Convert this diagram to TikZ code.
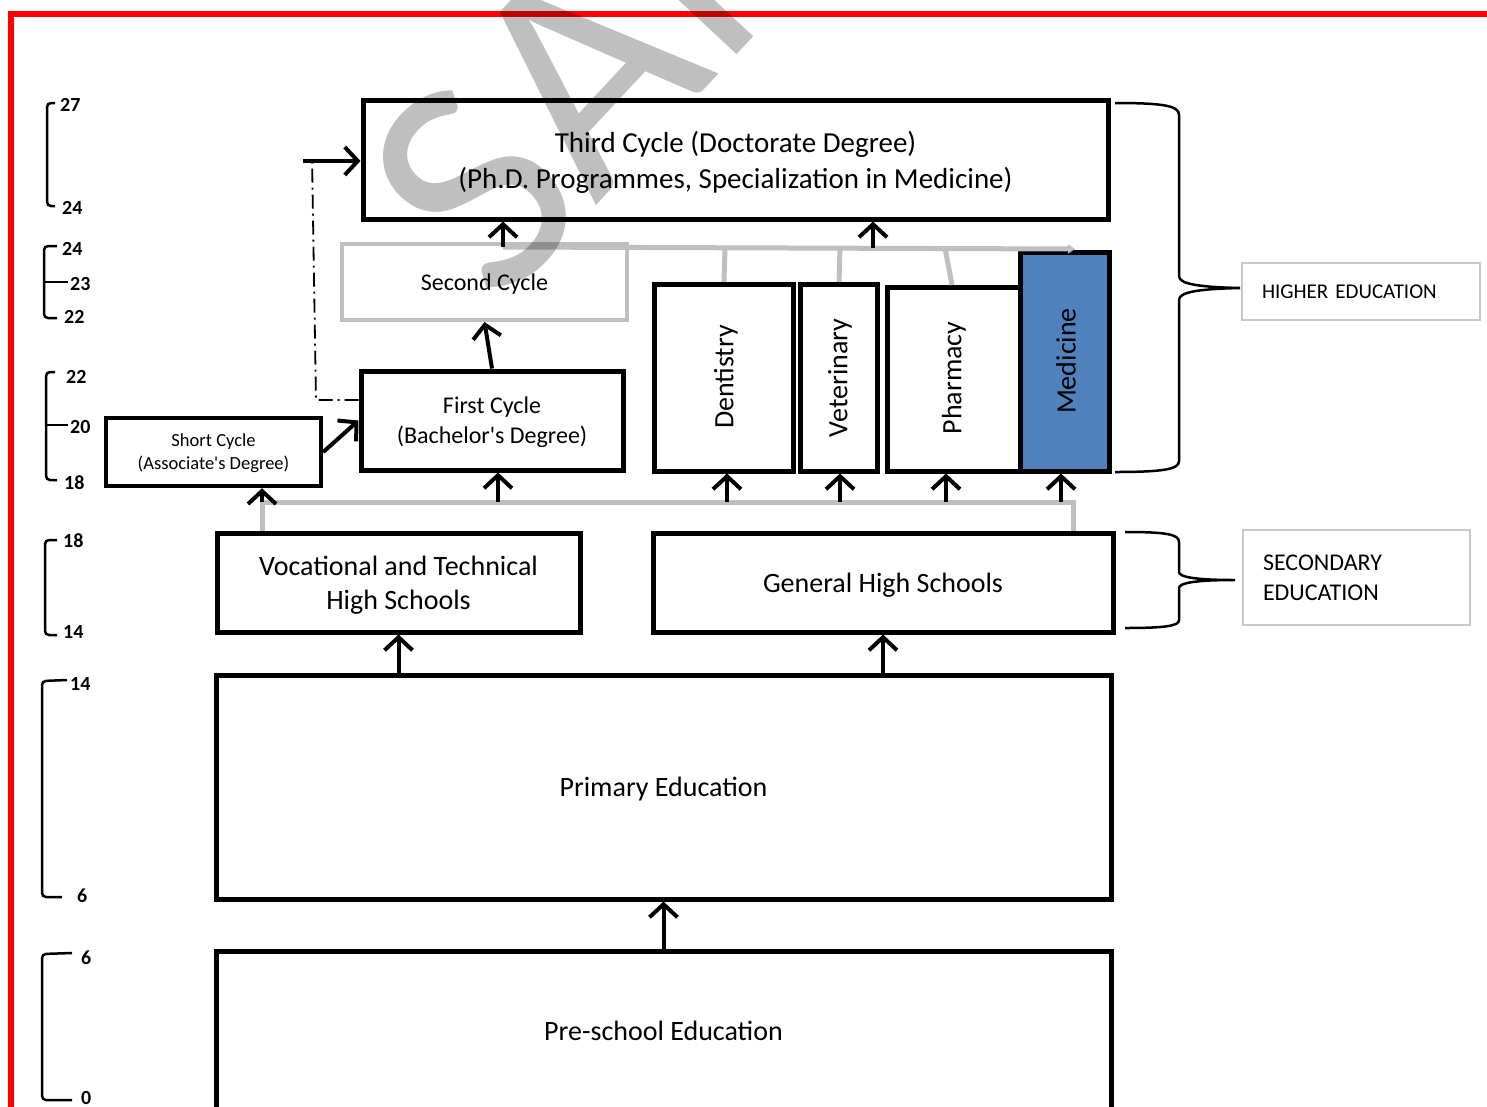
\documentclass[tikz,border=0pt]{standalone}
\usepackage{fontspec}
\setmainfont{Carlito}
\usetikzlibrary{arrows.meta, positioning}
\definecolor{edred}{HTML}{FF0000}
\definecolor{edgray}{HTML}{BFBFBF}
\definecolor{edframe}{HTML}{C8C8C8}
\definecolor{edblue}{HTML}{4F81BD}

\begin{document}
\begin{tikzpicture}[
  x=1pt, y=-1pt,
  stage/.style={rectangle, draw=black, line width=5pt, fill=white,
    align=center, inner sep=0pt, text depth=0pt,
    font=\fontsize{28}{34}\selectfont},
  branch/.style={stage, minimum height=187pt},
  vtext/.style={rotate=90, inner sep=0pt, font=\fontsize{28}{34}\selectfont},
  tag/.style={rectangle, draw=edframe, line width=2pt, align=left,
    inner xsep=20pt, inner ysep=0pt},
  age/.style={anchor=west, inner sep=0pt,
    font=\bfseries\fontsize{20}{24}\selectfont},
  scalebar/.style={line width=2.5pt, rounded corners=4pt},
  brace/.style={line width=2.5pt},
  arr/.style={-{Straight Barb[length=13pt, width=28pt]}, line width=4pt},
  gline/.style={draw=edgray, line width=5pt},
  dashdot/.style={line width=1.8pt, dash pattern=on 14pt off 5pt on 2pt off 5pt},
  wmark/.style={rotate=47, inner sep=0pt, text=black, text opacity=0.25,
    font=\fontsize{315}{340}\selectfont}
]
  \useasboundingbox (0,0) rectangle (1487,1106);

  % frame
  \draw[edred, line width=6pt] (11,1120) -- (11,14) -- (1500,14);

  % higher education
  \node[stage, minimum width=745pt, minimum height=119pt,
    font=\fontsize{29}{36}\selectfont] (third) at (735.5,159.5)
    {Third Cycle (Doctorate Degree)\\(Ph.D. Programmes, Specialization in Medicine)};
  \node[stage, draw=edgray, line width=4pt, minimum width=285pt, minimum height=76pt,
    font=\fontsize{24}{29}\selectfont] (second) at (484.5,282) {Second Cycle};
  \node[stage, minimum width=262pt, minimum height=99pt,
    font=\fontsize{24}{30}\selectfont] (first) at (492,420.5)
    {First Cycle\\(Bachelor\textquotesingle s Degree)};
  \node[stage, line width=4.5pt, minimum width=215pt, minimum height=68pt,
    font=\fontsize{18.5}{23}\selectfont] (short) at (213.5,452)
    {Short Cycle\\(Associate\textquotesingle s Degree)};

  \node[branch, minimum width=139pt] (dent) at (723.5,377.5) {};
  \node[branch, minimum width=77pt] (vet) at (838.5,377.5) {};
  \node[branch, minimum width=133pt, minimum height=184pt] (pharm) at (953.5,379) {};
  \node[branch, fill=edblue, minimum width=89pt, minimum height=219pt] (med) at (1064.5,361.5) {};
  \node[vtext] (dentname) at (726,377) {Dentistry};
  \node[vtext] (vetname) at (840,378) {Veterinary};
  \node[vtext] (pharmname) at (954,378) {Pharmacy};
  \node[vtext] (medname) at (1066,361) {Medicine};

  % secondary and below
  \node[stage, minimum width=363pt, minimum height=99pt] (voc) at (398.5,582.5)
    {Vocational and Technical\\High Schools};
  \node[stage, minimum width=460pt, minimum height=99pt] (gen) at (883,582.5)
    {General High Schools};
  \node[stage, minimum width=895pt, minimum height=224pt] (prim) at (663.5,787)
    {Primary Education};
  \node[stage, minimum width=895pt, minimum height=159pt] (pre) at (663.5,1030.5)
    {Pre-school Education};

  % level tags
  \node[tag, minimum width=238pt, minimum height=57pt, text width=198pt,
    font=\fontsize{21}{26}\selectfont] (higher) at (1361,291.5) {HIGHER EDUCATION};
  \node[tag, minimum width=227pt, minimum height=95pt, text width=187pt,
    font=\fontsize{24}{30}\selectfont] (secondary) at (1356.5,577.5)
    {SECONDARY\\EDUCATION};

  % gray routes
  \coordinate (gtop) at (503,247);
  \coordinate (gend) at (1075,249);
  \draw[gline, -{Triangle[length=7pt, width=9pt]}] (gtop) -- (gend);
  \draw[gline] (725,248) -- (724,282);
  \draw[gline] (840,248) -- (839,282);
  \draw[gline] (945,248) -- (952,285);
  \coordinate (gl) at (262,502);
  \coordinate (gr) at (1073,502);
  \draw[gline] (gl |- voc.north) -- (gl) -- (gr) -- (gr |- gen.north);

  % arrows
  \draw[arr] (gtop) -- (gtop |- third.south);
  \coordinate (gmid) at (873,248);
  \draw[arr] (gmid) -- (gmid |- third.south);
  \draw[arr] (first.north) -- (second.south);
  \draw[arr] (short.east) -- (first.west);
  \foreach \n/\x in {short/262, first/498, dent/727, vet/840, pharm/946, med/1061} {
    \coordinate (foot) at (\x,502);
    \draw[arr] (foot) -- (foot |- \n.south);
  }
  \draw[arr] (prim.north -| voc.south) -- (voc.south);
  \draw[arr] (prim.north -| gen.south) -- (gen.south);
  \draw[arr] (pre.north) -- (prim.south);

  % dash-dot route to the third cycle
  \coordinate (ddcorner) at (316,400);
  \coordinate (ddtop) at (312,157);
  \draw[dashdot] (ddcorner -| first.west) -- (ddcorner) -- (ddtop);
  \coordinate (phdin) at (303,161);
  \draw[arr] (phdin) -- (phdin -| third.west);

  % braces
  \draw[brace] (1115,103) .. controls (1165,103) and (1179,106) .. (1179,115)
    -- (1179,276) .. controls (1179,284) and (1198,287) .. (1240,288)
    .. controls (1198,289) and (1179,292) .. (1179,300)
    -- (1179,461) .. controls (1179,469) and (1165,472) .. (1115,472);
  \draw[brace] (1125,532) .. controls (1165,532) and (1179,534) .. (1179,542)
    -- (1179,572) .. controls (1179,577) and (1195,580) .. (1235,580)
    .. controls (1195,580) and (1179,583) .. (1179,588)
    -- (1179,620) .. controls (1179,626) and (1165,628) .. (1125,628);

  % age scale
  \draw[scalebar] (55,103) -- (47,103) -- (47,206) -- (55,206);
  \draw[scalebar] (57,246) -- (44,246) -- (44,318) -- (57,318);
  \draw[scalebar] (44,282) -- (68,282);
  \draw[scalebar] (55,372) -- (46,372) -- (46,480) -- (57,480);
  \draw[scalebar] (46,425) -- (68,425);
  \draw[scalebar] (57,540) -- (45,540) -- (45,635) -- (57,635);
  \draw[scalebar] (67,680) -- (42,681) -- (42,897) -- (62,897);
  \draw[scalebar] (72,953) -- (42,954) -- (42,1100) -- (72,1100);
  \foreach \t/\x/\y [count=\i] in {27/60/105, 24/62/208, 24/62/249, 23/70/284,
      22/64/317, 22/66/377, 20/70/427, 18/64/483, 18/63/541, 14/63/632,
      14/70/684, 6/77/896, 6/81/958, 0/81/1098}
    \node[age] (age\i) at (\x,\y) {\t};

  % watermark
  \node[wmark, anchor=base west] (wm) at (498,311) {SAMPLE};
\end{tikzpicture}
\end{document}
